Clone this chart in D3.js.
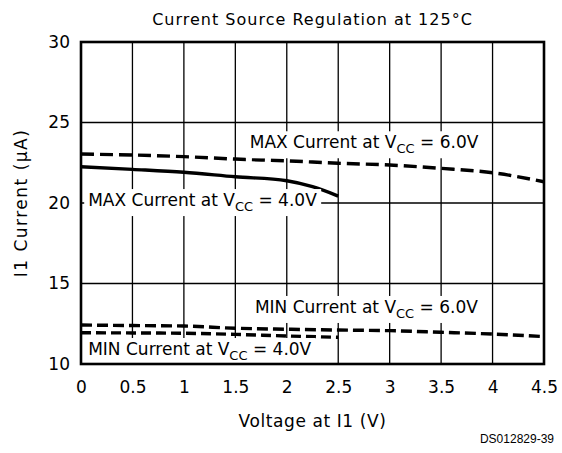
<!DOCTYPE html>
<html>
<head>
<meta charset="utf-8">
<script src="https://cdn.jsdelivr.net/npm/d3@7"></script>
<style>
  body { margin: 0; background: #fff; }
  text { font-family: "DejaVu Sans", sans-serif; fill: #000; }
</style>
</head>
<body>
<div id="chart"></div>
<script>
// Data (V at I1 -> I1 current in uA)
let max6V = [0, 0.5, 1, 1.5, 2, 2.5, 3, 3.5, 4, 4.5]
let max6I = [23.04, 22.98, 22.88, 22.73, 22.62, 22.47, 22.36, 22.15, 21.88, 21.32]
let max4V = [0, 0.5, 1, 1.5, 2, 2.25, 2.5]
let max4I = [22.25, 22.09, 21.91, 21.63, 21.38, 21.01, 20.43]
let min6V = [0, 0.5, 1, 1.5, 2, 2.5, 3, 3.5, 4, 4.5]
let min6I = [12.42, 12.39, 12.36, 12.22, 12.16, 12.11, 12.07, 11.97, 11.86, 11.7]
let min4V = [0, 0.5, 1, 1.5, 2, 2.5]
let min4I = [11.94, 11.93, 11.91, 11.84, 11.74, 11.66]

let xTicks = [0, 0.5, 1, 1.5, 2, 2.5, 3, 3.5, 4, 4.5]
let yTicks = [10, 15, 20, 25, 30]

// Curve labels: text parts and anchor in data units
let labels = [
  { pre: 'MAX Current at V', sub: 'CC', post: ' = 6.0V', x: 1.64, y: 23.4 },
  { pre: 'MAX Current at V', sub: 'CC', post: ' = 4.0V', x: 0.07, y: 19.81 },
  { pre: 'MIN Current at V', sub: 'CC', post: ' = 6.0V', x: 1.69, y: 13.17 },
  { pre: 'MIN Current at V', sub: 'CC', post: ' = 4.0V', x: 0.07, y: 10.56 }
]

let svgWidth = 562, svgHeight = 453
let margin = { top: 42, right: 18, bottom: 89, left: 81 }
let width = svgWidth - margin.left - margin.right
let height = svgHeight - margin.top - margin.bottom

let svg = d3.select('#chart')
  .append('svg')
  .attr('width', svgWidth)
  .attr('height', svgHeight)

let g = svg.append('g')
  .attr('transform', 'translate(' + margin.left + ',' + margin.top + ')')

let x = d3.scaleLinear().domain([0, 4.5]).range([0, width])
let y = d3.scaleLinear().domain([10, 30]).range([height, 0])

// grid
g.append('g')
  .selectAll('line')
  .data(xTicks.slice(1, -1))
  .join('line')
  .attr('x1', d => x(d)).attr('x2', d => x(d))
  .attr('y1', 0).attr('y2', height)
  .attr('stroke', '#000').attr('stroke-width', 1.3)

g.append('g')
  .selectAll('line')
  .data(yTicks.slice(1, -1))
  .join('line')
  .attr('y1', d => y(d)).attr('y2', d => y(d))
  .attr('x1', 0).attr('x2', width)
  .attr('stroke', '#000').attr('stroke-width', 1.3)

// axes (labels only, frame drawn separately)
let xAxis = g.append('g')
  .attr('transform', 'translate(0,' + height + ')')
  .call(d3.axisBottom(x).tickValues(xTicks).tickSize(0).tickPadding(17).tickFormat(d3.format('')))
xAxis.select('.domain').remove()
xAxis.selectAll('text').attr('font-size', 17).attr('font-family', '"DejaVu Sans", sans-serif')

let yAxis = g.append('g')
  .call(d3.axisLeft(y).tickValues(yTicks).tickSize(0).tickPadding(11))
yAxis.select('.domain').remove()
yAxis.selectAll('text').attr('font-size', 17).attr('font-family', '"DejaVu Sans", sans-serif')

// lines
let line = d3.line()
  .x(d => x(d[0]))
  .y(d => y(d[1]))
  .curve(d3.curveMonotoneX)

let series = [
  { v: max6V, i: max6I, dash: '13,6' },
  { v: max4V, i: max4I, dash: null },
  { v: min6V, i: min6I, dash: '11,5' },
  { v: min4V, i: min4I, dash: '10,5' }
]

series.forEach(s => {
  g.append('path')
    .datum(d3.zip(s.v, s.i))
    .attr('fill', 'none')
    .attr('stroke', '#000')
    .attr('stroke-width', 3.4)
    .attr('stroke-dasharray', s.dash)
    .attr('d', line)
})

// curve labels with white boxes
labels.forEach(l => {
  let lg = g.append('g')
  let t = lg.append('text')
    .attr('x', x(l.x))
    .attr('y', y(l.y))
    .attr('font-size', 17)
  t.append('tspan').text(l.pre)
  t.append('tspan').attr('dy', 5).attr('font-size', 13).text(l.sub)
  t.append('tspan').attr('dy', -5).text(l.post)
  let b = t.node().getBBox()
  lg.insert('rect', 'text')
    .attr('x', b.x - 4).attr('y', b.y - 1)
    .attr('width', b.width + 8).attr('height', b.height + 3)
    .attr('fill', '#fff')
})

// frame
g.append('rect')
  .attr('width', width).attr('height', height)
  .attr('fill', 'none')
  .attr('stroke', '#000')
  .attr('stroke-width', 2.6)

// titles
svg.append('text')
  .attr('x', margin.left + width / 2)
  .attr('y', 25)
  .attr('text-anchor', 'middle')
  .attr('font-size', 16)
  .attr('letter-spacing', 1)
  .text('Current Source Regulation at 125°C')

svg.append('text')
  .attr('x', margin.left + width / 2)
  .attr('y', 427)
  .attr('text-anchor', 'middle')
  .attr('font-size', 17)
  .attr('letter-spacing', 0.6)
  .text('Voltage at I1 (V)')

svg.append('text')
  .attr('transform', 'translate(27,' + (margin.top + height / 2) + ') rotate(-90)')
  .attr('text-anchor', 'middle')
  .attr('font-size', 17)
  .attr('letter-spacing', 1.5)
  .text('I1 Current (µA)')

svg.append('text')
  .attr('x', 554)
  .attr('y', 443)
  .attr('text-anchor', 'end')
  .attr('font-size', 12)
  .style('font-family', '"Liberation Sans", Arial, sans-serif')
  .text('DS012829-39')
</script>
</body>
</html>
